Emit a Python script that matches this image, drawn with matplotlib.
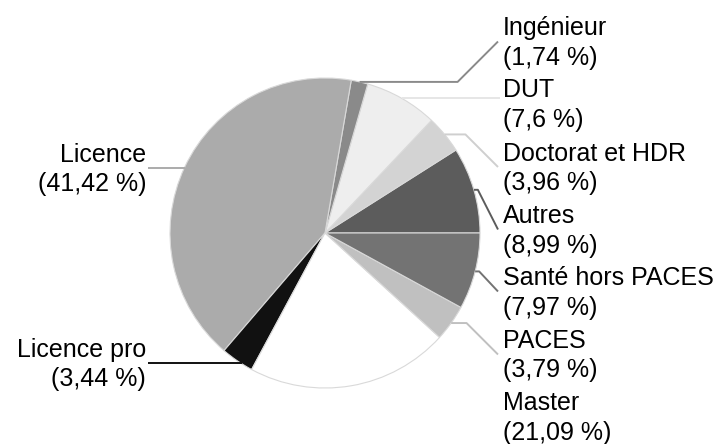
import matplotlib.pyplot as plt
import numpy as np

plt.rcParams['font.family'] = ['Liberation Sans', 'DejaVu Sans']

# data, in drawing order (counter-clockwise from 3 o'clock)
categories = ["Autres", "Doctorat et HDR", "DUT", "Ingénieur", "Licence",
              "Licence pro", "Master", "PACES", "Santé hors PACES"]
shares = [8.99, 3.96, 7.6, 1.74, 41.42, 3.44, 21.09, 3.79, 7.97]
share_labels = ["8,99", "3,96", "7,6", "1,74", "41,42", "3,44", "21,09", "3,79", "7,97"]
colors = ["#5c5c5c", "#d3d3d3", "#eeeeee", "#8a8a8a", "#ababab",
          "#111111", "#ffffff", "#c0c0c0", "#737373"]
line_colors = ["#5c5c5c", "#cfcfcf", "#e6e6e6", "#8a8a8a", "#ababab",
               "#111111", None, "#c0c0c0", "#737373"]

# label layout (pixels): side, first-line baseline
label_side = ["R", "R", "R", "R", "L", "L", "R", "R", "R"]
label_base = [223, 160.5, 97, 35, 161.5, 356.5, 410.5, 348, 285]

W, H = 721, 444
cx, cy, r = 325, 233, 155

fig = plt.figure(figsize=(W / 100, H / 100), dpi=100)
ax = fig.add_axes([0, 0, 1, 1])

# y axis is inverted, so clockwise in data = counter-clockwise on screen
ax.pie(shares, colors=colors, startangle=0, counterclock=False,
       center=(cx, cy), radius=r, frame=True,
       wedgeprops=dict(edgecolor="#d9d9d9", linewidth=0.8))
ax.set_xlim(0, W)
ax.set_ylim(H, 0)
ax.set_aspect('equal')
ax.axis('off')

fs = 18
gap = 29.5
cum = np.cumsum([0] + shares[:-1])
for i, cat in enumerate(categories):
    b = label_base[i]
    if label_side[i] == "R":
        tx, ha = 503, "left"
    else:
        tx, ha = 146, "right"
    ax.text(tx, b, cat, fontsize=fs, ha=ha, va="baseline", color="black")
    ax.text(tx, b + gap, "(" + share_labels[i] + " %)", fontsize=fs, ha=ha,
            va="baseline", color="black")

    lc = line_colors[i]
    if lc is None:
        continue
    if label_side[i] == "R":
        mid = np.radians(3.6 * (cum[i] + shares[i] / 2))
        axp, ayp = cx + r * np.cos(mid), cy - r * np.sin(mid)
        ex, ey = 498, b + 6.5
        dy = abs(ey - ayp)
        if dy < 8:
            xs, ys = [axp, ex + 2], [ayp, ayp]
        else:
            elbow = max(axp + 4, ex - dy)
            xs, ys = [axp, elbow, ex], [ayp, ayp, ey]
    else:
        ly = b + 6.5
        hx = cx - np.sqrt(r ** 2 - (ly - cy) ** 2)
        xs, ys = [148, hx + 1], [ly, ly]
    ax.plot(xs, ys, color=lc, linewidth=1.4, solid_capstyle="butt")

fig.savefig("out.png", dpi=100)
